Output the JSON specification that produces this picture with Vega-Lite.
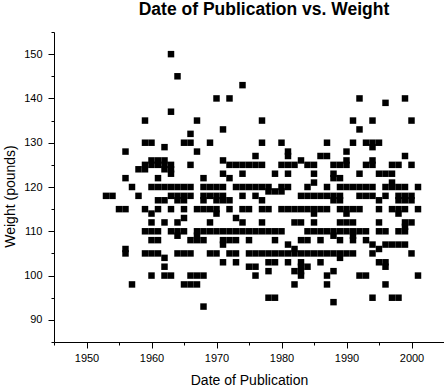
{
"$schema": "https://vega.github.io/schema/vega-lite/v6.json",
"width": 390, "height": 310,
"autosize": {"type": "none"},
"padding": {"left": 54, "top": 32, "right": 0, "bottom": 44},
"background": "white",
"title": {"text": "Date of Publication vs. Weight", "font": "Liberation Sans", "fontSize": 17.5, "fontWeight": "bold", "color": "black", "anchor": "middle", "dx": 15, "offset": 13},
"config": {"view": {"stroke": null}, "axis": {"grid": false, "domainColor": "black", "tickColor": "black", "labelColor": "black", "titleColor": "black", "labelFont": "Liberation Sans", "titleFont": "Liberation Sans", "titleFontWeight": "normal"}},
"datasets": {"pts": [
{"d":1963,"w":150},{"d":1964,"w":145},{"d":1974,"w":143},
{"d":1970,"w":140},{"d":1972,"w":140},{"d":1992,"w":140},{"d":1999,"w":140},
{"d":1996,"w":139},{"d":1963,"w":137},
{"d":1959,"w":135},{"d":1967,"w":135},{"d":1977,"w":135},{"d":1991,"w":135},{"d":1994,"w":135},{"d":2000,"w":135},
{"d":1971,"w":133},{"d":1992,"w":133},{"d":1966,"w":132},
{"d":1959,"w":130},{"d":1960,"w":130},{"d":1965,"w":130},{"d":1966,"w":130},{"d":1969,"w":130},{"d":1977,"w":130},{"d":1980,"w":130},{"d":1987,"w":130},{"d":1991,"w":130},{"d":1993,"w":130},{"d":1994,"w":130},{"d":1995,"w":130},
{"d":1962,"w":129},{"d":1994,"w":129},
{"d":1956,"w":128},{"d":1967,"w":128},{"d":1981,"w":128},{"d":1990,"w":128},
{"d":1976,"w":127},{"d":1981,"w":127},{"d":1986,"w":127},{"d":1987,"w":127},{"d":1999,"w":127},
{"d":1960,"w":126},{"d":1961,"w":126},{"d":1962,"w":126},{"d":1971,"w":126},{"d":1983,"w":126},{"d":1990,"w":126},{"d":1994,"w":126},
{"d":1959,"w":125},{"d":1960,"w":125},{"d":1961,"w":125},{"d":1962,"w":125},{"d":1963,"w":125},{"d":1966,"w":125},{"d":1972,"w":125},{"d":1973,"w":125},{"d":1974,"w":125},{"d":1975,"w":125},{"d":1976,"w":125},{"d":1977,"w":125},{"d":1980,"w":125},{"d":1981,"w":125},{"d":1982,"w":125},{"d":1984,"w":125},{"d":1985,"w":125},{"d":1988,"w":125},{"d":1989,"w":125},{"d":1990,"w":125},{"d":1993,"w":125},{"d":1994,"w":125},{"d":1997,"w":125},{"d":1998,"w":125},{"d":2000,"w":125},
{"d":1958,"w":124},{"d":1959,"w":124},{"d":1962,"w":124},{"d":1963,"w":124},
{"d":1963,"w":123},{"d":1971,"w":123},{"d":1974,"w":123},{"d":1979,"w":123},{"d":1981,"w":123},{"d":1985,"w":123},{"d":1988,"w":123},{"d":1992,"w":123},{"d":1995,"w":123},{"d":1996,"w":123},{"d":1997,"w":123},
{"d":1956,"w":122},{"d":1961,"w":122},{"d":1968,"w":122},{"d":1972,"w":122},{"d":1988,"w":122},{"d":1989,"w":122},
{"d":1985,"w":121},{"d":1997,"w":121},
{"d":1957,"w":120},{"d":1960,"w":120},{"d":1961,"w":120},{"d":1962,"w":120},{"d":1963,"w":120},{"d":1964,"w":120},{"d":1965,"w":120},{"d":1966,"w":120},{"d":1968,"w":120},{"d":1969,"w":120},{"d":1970,"w":120},{"d":1971,"w":120},{"d":1973,"w":120},{"d":1974,"w":120},{"d":1975,"w":120},{"d":1976,"w":120},{"d":1977,"w":120},{"d":1978,"w":120},{"d":1980,"w":120},{"d":1981,"w":120},{"d":1984,"w":120},{"d":1987,"w":120},{"d":1989,"w":120},{"d":1990,"w":120},{"d":1991,"w":120},{"d":1992,"w":120},{"d":1993,"w":120},{"d":1994,"w":120},{"d":1996,"w":120},{"d":1997,"w":120},{"d":1998,"w":120},{"d":1999,"w":120},{"d":2001,"w":120},
{"d":1978,"w":119},{"d":1979,"w":119},{"d":1980,"w":119},
{"d":1953,"w":118},{"d":1954,"w":118},{"d":1958,"w":118},{"d":1963,"w":118},{"d":1964,"w":118},{"d":1965,"w":118},{"d":1966,"w":118},{"d":1968,"w":118},{"d":1969,"w":118},{"d":1970,"w":118},{"d":1971,"w":118},{"d":1974,"w":118},{"d":1976,"w":118},{"d":1983,"w":118},{"d":1984,"w":118},{"d":1985,"w":118},{"d":1986,"w":118},{"d":1987,"w":118},{"d":1988,"w":118},{"d":1989,"w":118},{"d":1992,"w":118},{"d":1993,"w":118},{"d":1994,"w":118},{"d":1996,"w":118},{"d":1998,"w":118},{"d":1999,"w":118},{"d":2000,"w":118},
{"d":1961,"w":117},{"d":1962,"w":117},{"d":1964,"w":117},{"d":1965,"w":117},{"d":1968,"w":117},{"d":1970,"w":117},{"d":1971,"w":117},{"d":1972,"w":117},{"d":1977,"w":117},{"d":1988,"w":117},{"d":1989,"w":117},{"d":1995,"w":117},{"d":1998,"w":117},{"d":1999,"w":117},{"d":2000,"w":117},
{"d":1955,"w":115},{"d":1956,"w":115},{"d":1959,"w":115},{"d":1961,"w":115},{"d":1963,"w":115},{"d":1965,"w":115},{"d":1967,"w":115},{"d":1968,"w":115},{"d":1969,"w":115},{"d":1970,"w":115},{"d":1972,"w":115},{"d":1974,"w":115},{"d":1975,"w":115},{"d":1977,"w":115},{"d":1978,"w":115},{"d":1980,"w":115},{"d":1981,"w":115},{"d":1982,"w":115},{"d":1983,"w":115},{"d":1984,"w":115},{"d":1985,"w":115},{"d":1986,"w":115},{"d":1987,"w":115},{"d":1989,"w":115},{"d":1990,"w":115},{"d":1991,"w":115},{"d":1992,"w":115},{"d":1995,"w":115},{"d":1997,"w":115},{"d":1998,"w":115},{"d":1999,"w":115},{"d":2001,"w":115},
{"d":1960,"w":114},{"d":1970,"w":114},{"d":1985,"w":114},{"d":1990,"w":114},{"d":1998,"w":114},
{"d":1965,"w":113},{"d":1973,"w":113},
{"d":1960,"w":112},{"d":1962,"w":112},{"d":1964,"w":112},{"d":1969,"w":112},{"d":1974,"w":112},{"d":1977,"w":112},{"d":1982,"w":112},{"d":1983,"w":112},{"d":1985,"w":112},{"d":1989,"w":112},{"d":1990,"w":112},{"d":1991,"w":112},{"d":1995,"w":112},{"d":1999,"w":112},{"d":2000,"w":112},
{"d":1999,"w":111},
{"d":1959,"w":110},{"d":1960,"w":110},{"d":1961,"w":110},{"d":1963,"w":110},{"d":1964,"w":110},{"d":1965,"w":110},{"d":1967,"w":110},{"d":1968,"w":110},{"d":1969,"w":110},{"d":1970,"w":110},{"d":1971,"w":110},{"d":1972,"w":110},{"d":1973,"w":110},{"d":1974,"w":110},{"d":1975,"w":110},{"d":1976,"w":110},{"d":1977,"w":110},{"d":1978,"w":110},{"d":1979,"w":110},{"d":1980,"w":110},{"d":1984,"w":110},{"d":1985,"w":110},{"d":1986,"w":110},{"d":1987,"w":110},{"d":1988,"w":110},{"d":1989,"w":110},{"d":1990,"w":110},{"d":1991,"w":110},{"d":1992,"w":110},{"d":1993,"w":110},{"d":1995,"w":110},{"d":1996,"w":110},{"d":1998,"w":110},{"d":1999,"w":110},
{"d":1964,"w":109},{"d":1967,"w":109},{"d":1988,"w":109},{"d":1991,"w":109},
{"d":1960,"w":108},{"d":1961,"w":108},{"d":1966,"w":108},{"d":1967,"w":108},{"d":1968,"w":108},{"d":1971,"w":108},{"d":1972,"w":108},{"d":1973,"w":108},{"d":1975,"w":108},{"d":1979,"w":108},{"d":1983,"w":108},{"d":1984,"w":108},{"d":1986,"w":108},{"d":1989,"w":108},{"d":1991,"w":108},{"d":1993,"w":108},
{"d":1971,"w":107},{"d":1981,"w":107},{"d":1994,"w":107},{"d":1996,"w":107},{"d":1997,"w":107},{"d":1998,"w":107},{"d":1999,"w":107},
{"d":1956,"w":106},{"d":1982,"w":106},{"d":1995,"w":106},
{"d":1956,"w":105},{"d":1959,"w":105},{"d":1960,"w":105},{"d":1961,"w":105},{"d":1964,"w":105},{"d":1965,"w":105},{"d":1966,"w":105},{"d":1969,"w":105},{"d":1970,"w":105},{"d":1972,"w":105},{"d":1973,"w":105},{"d":1975,"w":105},{"d":1976,"w":105},{"d":1977,"w":105},{"d":1978,"w":105},{"d":1979,"w":105},{"d":1980,"w":105},{"d":1981,"w":105},{"d":1982,"w":105},{"d":1983,"w":105},{"d":1984,"w":105},{"d":1985,"w":105},{"d":1986,"w":105},{"d":1987,"w":105},{"d":1988,"w":105},{"d":1989,"w":105},{"d":1990,"w":105},{"d":1991,"w":105},{"d":1994,"w":105},{"d":2000,"w":105},
{"d":1962,"w":104},{"d":1989,"w":104},
{"d":1971,"w":103},{"d":1973,"w":103},{"d":1978,"w":103},{"d":1979,"w":103},{"d":1981,"w":103},{"d":1983,"w":103},{"d":1986,"w":103},{"d":1995,"w":103},{"d":1996,"w":103},
{"d":1962,"w":102},{"d":1975,"w":102},{"d":1976,"w":102},{"d":1983,"w":102},{"d":1984,"w":102},{"d":1996,"w":102},
{"d":1978,"w":101},{"d":1982,"w":101},{"d":1983,"w":101},{"d":1988,"w":101},
{"d":1960,"w":100},{"d":1962,"w":100},{"d":1963,"w":100},{"d":1966,"w":100},{"d":1967,"w":100},{"d":1968,"w":100},{"d":1976,"w":100},{"d":1983,"w":100},{"d":1987,"w":100},{"d":1992,"w":100},{"d":1993,"w":100},{"d":2001,"w":100},
{"d":1957,"w":98},{"d":1965,"w":98},{"d":1966,"w":98},{"d":1967,"w":98},{"d":1982,"w":98},{"d":1987,"w":98},{"d":1996,"w":98},
{"d":1978,"w":95},{"d":1979,"w":95},{"d":1994,"w":95},{"d":1997,"w":95},{"d":1998,"w":95},
{"d":1988,"w":94},{"d":1968,"w":93}
]},
"data": {"name": "pts"},
"layer": [
{"mark": {"type": "point", "shape": "square", "size": 42, "filled": true, "color": "black", "opacity": 1, "strokeWidth": 0},
 "encoding": {
  "x": {"field": "d", "type": "quantitative", "scale": {"domain": [1945, 2005], "nice": false, "zero": false},
        "axis": {"orient": "bottom", "values": [1950,1960,1970,1980,1990,2000], "format": "d", "title": "Date of Publication", "tickSize": 6, "labelPadding": 4, "labelFontSize": 11, "titleFontSize": 14, "titlePadding": 10, "labelFlush": false}},
  "y": {"field": "w", "type": "quantitative", "scale": {"domain": [85, 155], "nice": false, "zero": false},
        "axis": {"orient": "left", "values": [90,100,110,120,130,140,150], "format": "d", "title": "Weight (pounds)", "tickSize": 6, "labelPadding": 6, "labelFontSize": 11, "titleFontSize": 14, "titlePadding": 6, "titleY": 164}}
 }},
{"mark": {"type": "point", "opacity": 0},
 "encoding": {
  "x": {"field": "d", "type": "quantitative", "scale": {"domain": [1945, 2005], "nice": false, "zero": false},
        "axis": {"orient": "bottom", "values": [1945,1955,1965,1975,1985,1995,2005], "labels": false, "title": null, "tickSize": 3, "domain": false}},
  "y": {"field": "w", "type": "quantitative", "scale": {"domain": [85, 155], "nice": false, "zero": false},
        "axis": {"orient": "left", "values": [85,95,105,115,125,135,145,155], "labels": false, "title": null, "tickSize": 3, "domain": false}}
 }}
],
"resolve": {"axis": {"x": "independent", "y": "independent"}}
}
